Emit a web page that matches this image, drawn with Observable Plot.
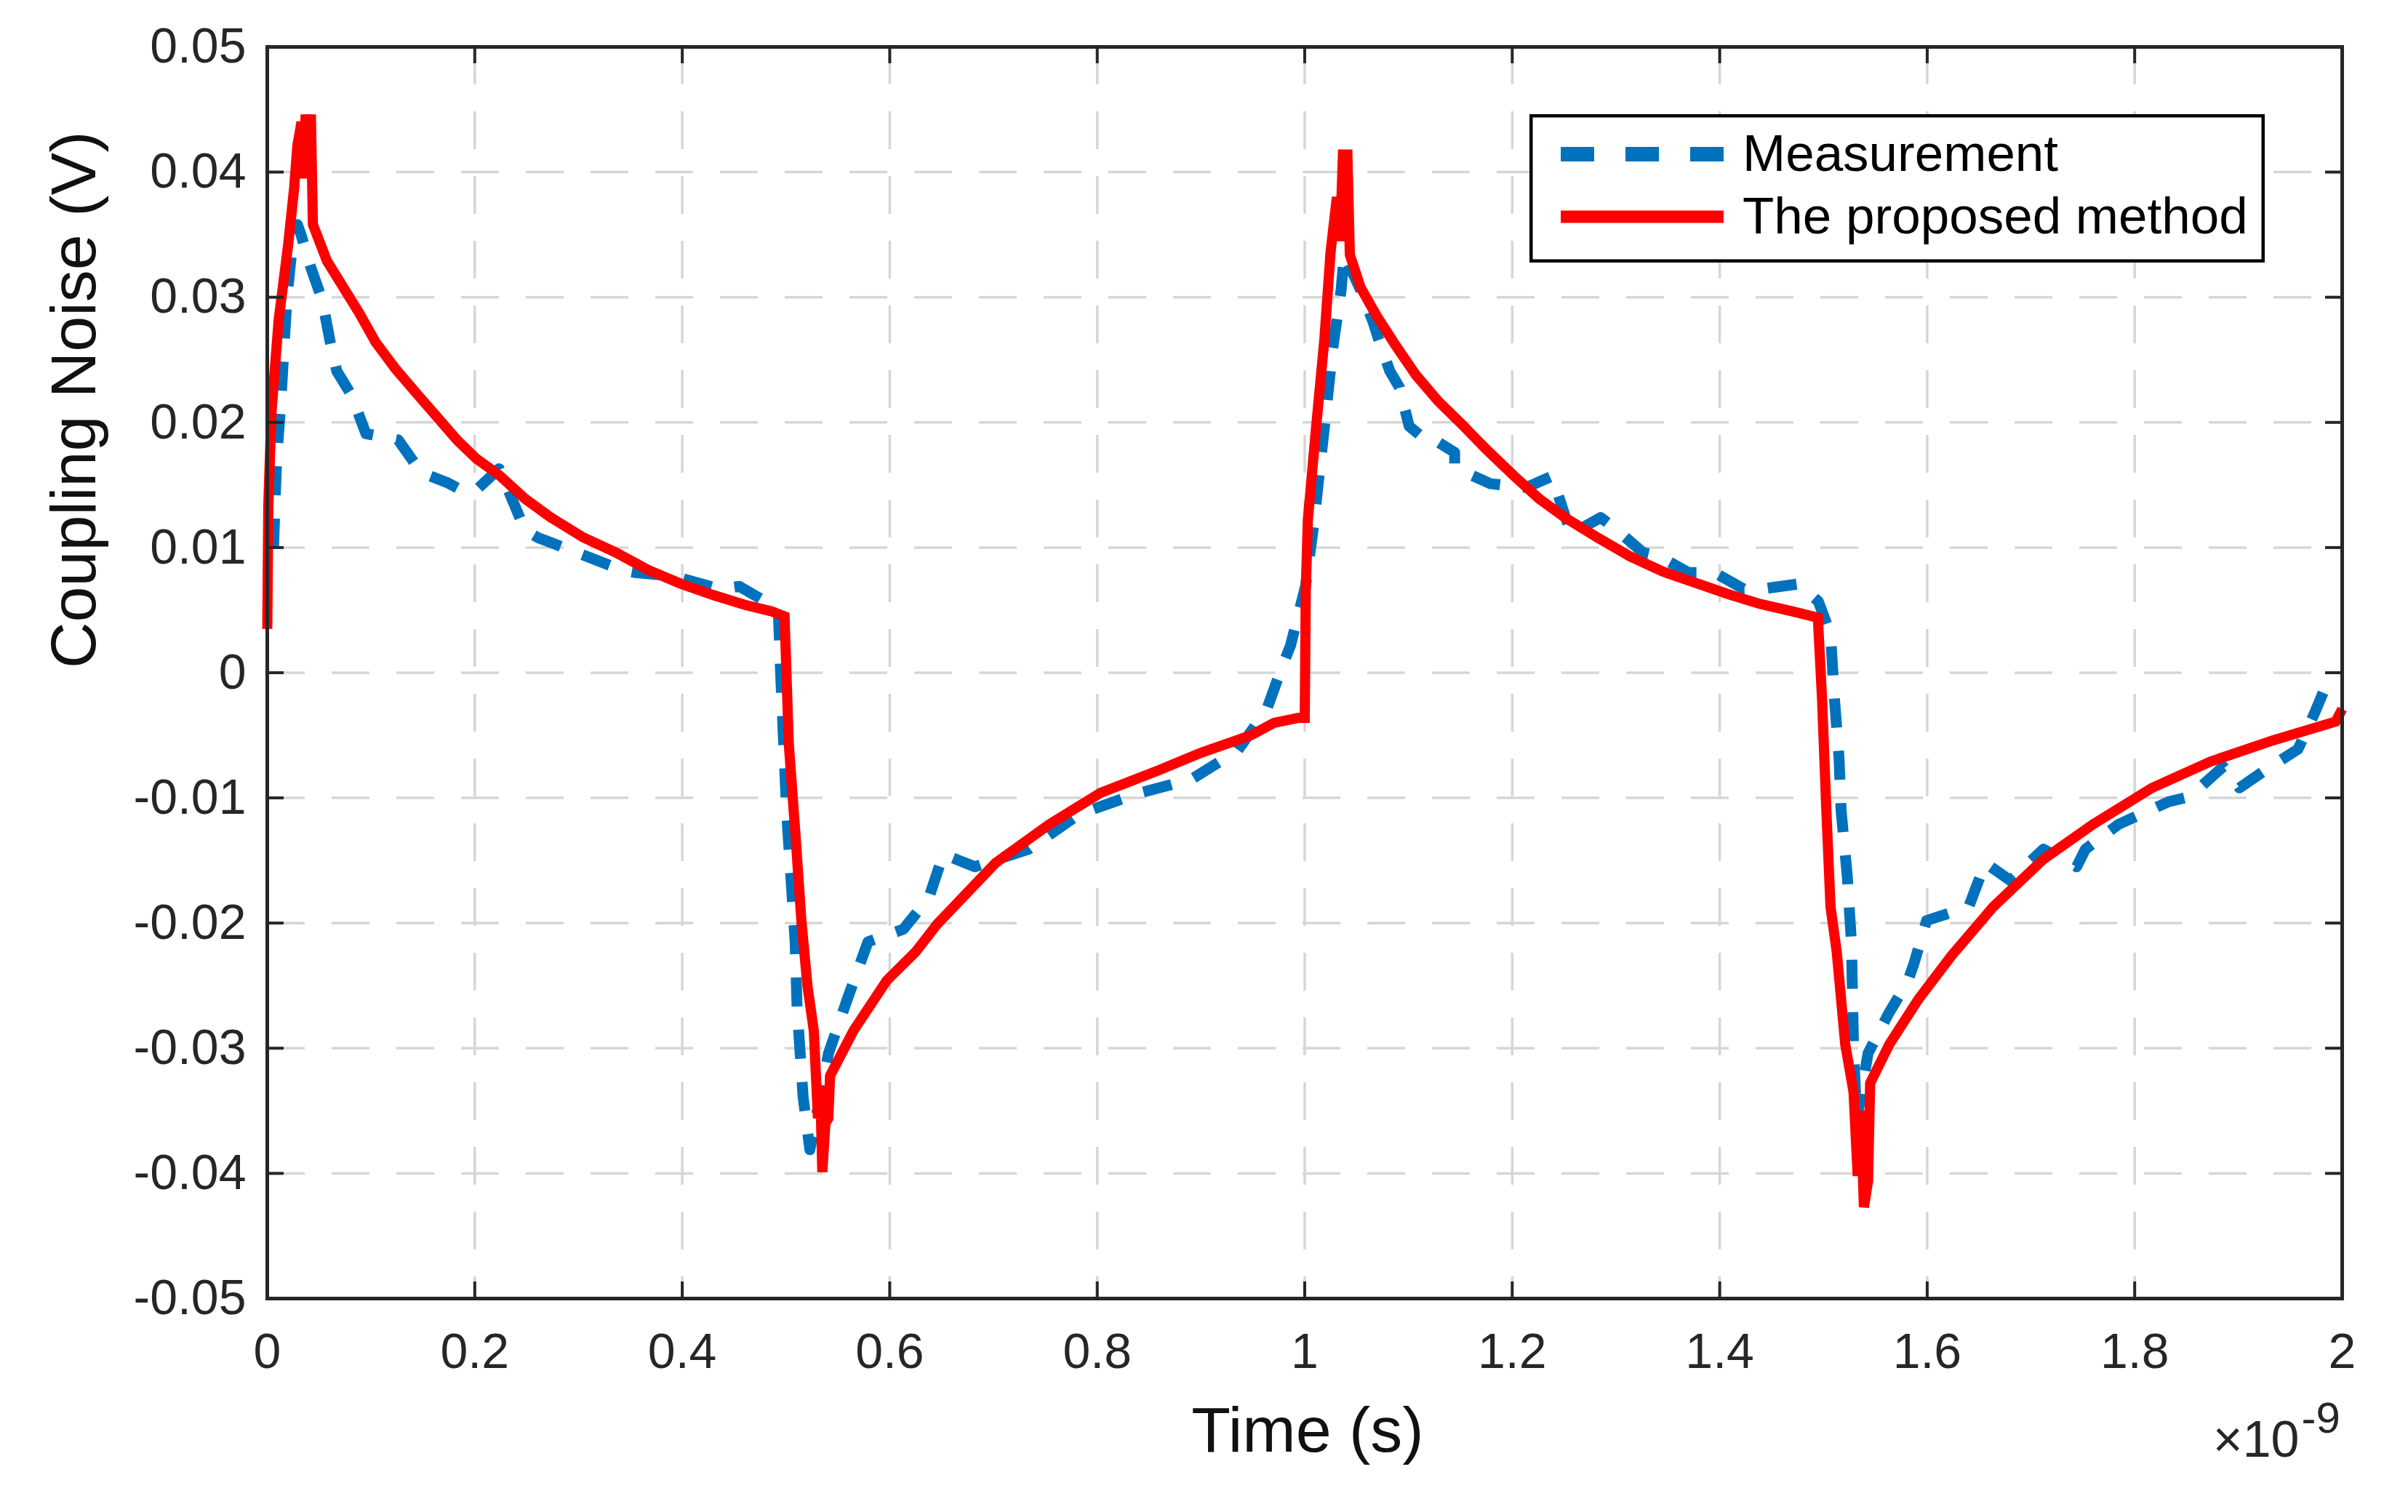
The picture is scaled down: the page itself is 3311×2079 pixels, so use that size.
<!DOCTYPE html>
<html><head><meta charset="utf-8">
<script src="https://cdn.jsdelivr.net/npm/d3@7"></script>
<script src="https://cdn.jsdelivr.net/npm/@observablehq/plot@0.6"></script>
<style>
body{margin:0;background:#fff;}
#wrap{position:relative;width:3311px;height:2079px;font-family:"Liberation Sans",Arial,sans-serif;background:#fff;}
</style></head><body><div id="wrap"></div>
<script>
// ---- data (time in units of 1e-9 s, voltage in V) ----
const xTicks = [0,0.2,0.4,0.6,0.8,1,1.2,1.4,1.6,1.8,2];
const xTickLabels = ["0","0.2","0.4","0.6","0.8","1","1.2","1.4","1.6","1.8","2"];
const yTicks = [-0.05,-0.04,-0.03,-0.02,-0.01,0,0.01,0.02,0.03,0.04,0.05];
const yTickLabels = ["-0.05","-0.04","-0.03","-0.02","-0.01","0","0.01","0.02","0.03","0.04","0.05"];
const seriesNames = ["Measurement","The proposed method"];

const measT = [0.006,0.009,0.013,0.016,0.019,0.024,0.029,0.0325,0.0419,0.0529,0.0607,0.067,0.081,0.0951,0.1262,0.1483,0.1732,0.189,0.2015,0.2234,0.2327,0.2484,0.2608,0.2923,0.342,0.355,0.3924,0.436,0.455,0.4925,0.495,0.5005,0.5088,0.5107,0.5165,0.523,0.541,0.559,0.579,0.613,0.6376,0.6517,0.682,0.734,0.7825,0.837,0.891,0.9355,0.9635,0.9783,0.9864,1.0007,1.0088,1.0148,1.021,1.027,1.0351,1.038,1.0537,1.066,1.071,1.082,1.0913,1.1006,1.1195,1.129,1.1445,1.1445,1.1602,1.179,1.2135,1.2384,1.2506,1.257,1.2853,1.301,1.326,1.3417,1.37,1.395,1.423,1.4418,1.4763,1.495,1.5068,1.5107,1.515,1.517,1.523,1.527,1.529,1.532,1.543,1.563,1.581,1.587,1.5994,1.64,1.656,1.68,1.712,1.744,1.7525,1.7847,1.833,1.853,1.8853,1.901,1.9255,1.9575,1.9735,1.984,1.99];
const measV = [0.0100,0.0170,0.0215,0.0258,0.0300,0.0340,0.0358,0.0350,0.0324,0.0298,0.0264,0.0241,0.0222,0.0191,0.0186,0.0160,0.0152,0.0145,0.0146,0.0163,0.0145,0.0114,0.0108,0.0098,0.0082,0.0080,0.0077,0.0067,0.0069,0.0051,-0.0004,-0.0110,-0.0215,-0.0268,-0.0339,-0.0381,-0.0304,-0.0261,-0.0215,-0.0205,-0.0180,-0.0145,-0.0155,-0.0141,-0.0113,-0.0097,-0.0085,-0.0062,-0.0029,0.0005,0.0022,0.0069,0.0119,0.0165,0.0212,0.0259,0.0306,0.0334,0.0306,0.0280,0.0267,0.0241,0.0228,0.0197,0.0184,0.0184,0.0176,0.0165,0.0158,0.0151,0.0148,0.0157,0.0126,0.0111,0.0124,0.0114,0.0096,0.0093,0.0080,0.0080,0.0067,0.0067,0.0071,0.0057,0.0031,-0.0022,-0.0068,-0.0110,-0.0163,-0.0216,-0.0300,-0.0357,-0.0304,-0.0272,-0.0247,-0.0233,-0.0198,-0.0187,-0.0152,-0.0166,-0.0141,-0.0155,-0.0141,-0.0121,-0.0103,-0.0099,-0.0075,-0.0092,-0.0078,-0.0061,-0.0032,-0.0011,-0.0012];

const methT = [0,0.001,0.004,0.011,0.02,0.026,0.029,0.033,0.035,0.037,0.040,0.042,0.044,0.0575,0.0732,0.0889,0.1045,0.1234,0.1451,0.164,0.1828,0.2015,0.2234,0.2484,0.2734,0.3048,0.3361,0.3674,0.3987,0.43,0.4613,0.4863,0.4986,0.5027,0.509,0.5148,0.5208,0.5268,0.5308,0.533,0.535,0.538,0.5408,0.5425,0.565,0.597,0.625,0.6456,0.702,0.754,0.803,0.859,0.9,0.948,0.9705,0.994,1.0,1.001,1.003,1.0105,1.0189,1.0249,1.031,1.034,1.037,1.039,1.041,1.0435,1.0537,1.0694,1.088,1.107,1.1286,1.1508,1.1756,1.2008,1.2259,1.2509,1.2822,1.3135,1.3446,1.3761,1.4074,1.4386,1.47,1.4946,1.4987,1.5028,1.5068,1.5128,1.521,1.529,1.533,1.536,1.539,1.543,1.545,1.5634,1.5914,1.6235,1.6637,1.712,1.76,1.8167,1.873,1.9335,1.9937,2.0];
const methV = [0.0035,0.0134,0.0208,0.0282,0.0341,0.0388,0.0421,0.0440,0.0395,0.0446,0.0400,0.0446,0.0358,0.0329,0.0308,0.0287,0.0264,0.0243,0.0222,0.0204,0.0186,0.0171,0.0158,0.0139,0.0124,0.0108,0.0096,0.0082,0.0071,0.0062,0.0054,0.0049,0.0045,-0.0057,-0.0128,-0.0198,-0.0251,-0.0286,-0.0356,-0.0330,-0.0399,-0.0360,-0.0356,-0.0322,-0.0286,-0.0246,-0.0223,-0.0201,-0.0152,-0.0121,-0.0096,-0.0078,-0.0064,-0.0050,-0.0040,-0.0036,-0.0036,0.0065,0.0122,0.0192,0.0266,0.0336,0.0380,0.0345,0.0418,0.0360,0.0418,0.0334,0.0308,0.0285,0.0261,0.0238,0.0217,0.0199,0.0178,0.0158,0.0139,0.0124,0.0108,0.0093,0.0081,0.0072,0.0063,0.0055,0.0049,0.0044,-0.0022,-0.0110,-0.0187,-0.0223,-0.0297,-0.0335,-0.0402,-0.0350,-0.0427,-0.0406,-0.0328,-0.0297,-0.0261,-0.0226,-0.0187,-0.0149,-0.0121,-0.0092,-0.0071,-0.0054,-0.0039,-0.0029];

const meas = measT.map((t,i)=>({t, v: measV[i]}));
const meth = methT.map((t,i)=>({t, v: methV[i]}));

// ---- layout ----
const W = 3311, H = 2079;
const mL = 367, mR = 91, mT = 64, mB = 294;
const plotW = W - mL - mR, plotH = H - mT - mB;
const axisCol = "#262626";
const tickLen = 23;
const gridStyle = {stroke:"#d6d6d6", strokeOpacity:1, strokeWidth:3.5, strokeDasharray:"52,37"};

const chart = Plot.plot({
  width: W, height: H,
  marginLeft: mL, marginRight: mR, marginTop: mT, marginBottom: mB,
  style: {fontFamily: '"Liberation Sans", Arial, sans-serif', background: "#fff", overflow: "visible"},
  x: {domain: [0, 2]},
  y: {domain: [-0.05, 0.05]},
  marks: [
    Plot.gridX(xTicks, gridStyle),
    Plot.gridY(yTicks, gridStyle),
    Plot.line(meas, {x:"t", y:"v", stroke:"#0072BD", strokeWidth:15, strokeDasharray:"40,32", strokeLinecap:"butt", strokeLinejoin:"round"}),
    Plot.line(meth, {x:"t", y:"v", stroke:"#FF0000", strokeWidth:14, strokeLinecap:"butt", strokeLinejoin:"miter", strokeMiterlimit:2}),
    // inward ticks on all four sides
    Plot.ruleX(xTicks, {stroke: axisCol, strokeWidth: 4, insetTop: plotH - tickLen}),
    Plot.ruleX(xTicks, {stroke: axisCol, strokeWidth: 4, insetBottom: plotH - tickLen}),
    Plot.ruleY(yTicks, {stroke: axisCol, strokeWidth: 4, insetRight: plotW - tickLen}),
    Plot.ruleY(yTicks, {stroke: axisCol, strokeWidth: 4, insetLeft: plotW - tickLen}),
    Plot.frame({stroke: axisCol, strokeWidth: 5}),
    Plot.axisX(xTicks, {tickSize: 0, tickPadding: 47, fontSize: 68, fill: axisCol, label: null,
      tickFormat: (d, i) => xTickLabels[i]}),
    Plot.axisY(yTicks, {tickSize: 0, tickPadding: 29, fontSize: 68, fill: axisCol, label: null,
      tickFormat: (d, i) => yTickLabels[i]}),
    Plot.text(["Time (s)"], {frameAnchor: "bottom", dx: 4, dy: 182, fontSize: 88, fill: "#111", lineAnchor: "middle"}),
    Plot.text(["Coupling Noise (V)"], {frameAnchor: "left", dx: -265, dy: -6, rotate: -90, fontSize: 88, fill: "#111", lineAnchor: "middle"}),
    Plot.text(["\u00d710"], {frameAnchor: "bottom-right", textAnchor: "end", dx: -59, dy: 195, fontSize: 70, fill: axisCol, lineAnchor: "middle"}),
    Plot.text(["-9"], {frameAnchor: "bottom-right", textAnchor: "start", dx: -56, dy: 165, fontSize: 60, fill: axisCol, lineAnchor: "middle"})
  ]
});

const wrap = document.getElementById("wrap");
wrap.appendChild(chart);

// ---- legend (inside the axes, top-right) ----
const lw = 1011, lh = 204;
const leg = d3.create("svg").attr("width", lw).attr("height", lh)
  .style("position","absolute").style("left","2103px").style("top","157px");
leg.append("rect").attr("x",2.25).attr("y",2.25).attr("width",lw-4.5).attr("height",lh-4.5)
  .attr("fill","#fff").attr("stroke","#000").attr("stroke-width",4.5);
const rows = [
  {name: seriesNames[0], stroke:"#0072BD", w:20, dash:"46,43", y:55, base:78},
  {name: seriesNames[1], stroke:"#FF0000", w:17, dash:null, y:141, base:164}
];
rows.forEach(r => {
  const ln = leg.append("line").attr("x1",43).attr("x2",267).attr("y1",r.y).attr("y2",r.y)
    .attr("stroke", r.stroke).attr("stroke-width", r.w);
  if (r.dash) ln.attr("stroke-dasharray", r.dash);
  leg.append("text").attr("x",293).attr("y",r.base).attr("font-size",71)
    .attr("font-family",'"Liberation Sans", Arial, sans-serif').attr("fill","#000").text(r.name);
});
wrap.appendChild(leg.node());
</script>
</body></html>
